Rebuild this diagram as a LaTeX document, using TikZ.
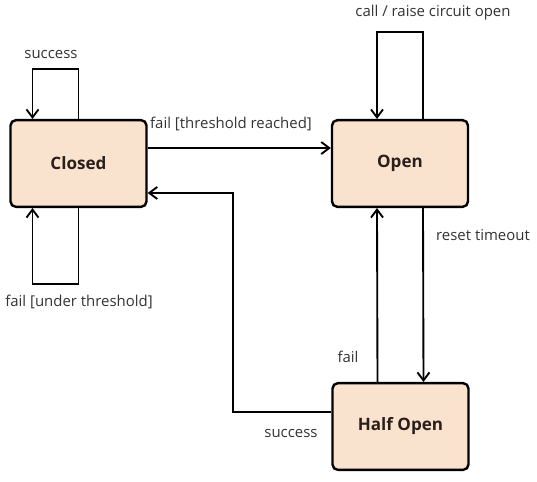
\documentclass[tikz,border=0pt]{standalone}
\usepackage{fontspec}
\setmainfont{Open Sans}
\usetikzlibrary{arrows.meta}

\definecolor{statefill}{HTML}{F9E2CE}
\definecolor{labelgray}{HTML}{333333}
\definecolor{statetext}{HTML}{2A1F1A}

\begin{document}
\begin{tikzpicture}[x=0.75pt, y=-0.75pt,
    state/.style={draw, line width=1.8pt, rounded corners=4pt, fill=statefill,
        minimum width=102pt, minimum height=65pt, font=\bfseries\fontsize{12.8}{15}\selectfont,
        text=statetext},
    lbl/.style={font=\fontsize{11.2}{13}\selectfont, text=labelgray, inner sep=0pt},
    trans/.style={line width=1.4pt, -{Straight Barb[length=6pt, width=9pt, line width=1.4pt]}}]
    \useasboundingbox (0,0) rectangle (537,482);

    \node[state] (closed) at (78.5, 163.5) {Closed};
    \node[state] (open) at (400, 163.5) {Open};
    \node[state] (half) at (400.5, 426.5) {Half Open};

    % Closed loops
    \draw[trans] (closed.north) -- ++(0,-50) -| ([xshift=-34.5pt]closed.north);
    \node[lbl] (succtop) at (51, 55) {success};

    \draw[trans] (closed.south) -- ++(0,76) -| ([xshift=-34.5pt]closed.south);
    \node[lbl] (failunder) at (79, 302) {fail [under threshold]};

    % Closed -> Open
    \draw[trans] ([yshift=11.6pt]closed.east) -- ([yshift=11.6pt]open.west);
    \node[lbl] (failreach) at (231, 124) {fail [threshold reached]};

    % Open loop
    \draw[trans] ([xshift=17.25pt]open.north) -- ++(0,-87) -| ([xshift=-17.25pt]open.north);
    \node[lbl] (callopen) at (433, 13) {call / raise circuit open};

    % Open <-> Half Open
    \draw[trans] ([xshift=17.25pt]open.south) -- ([xshift=17.25pt]half.north);
    \node[lbl] (reset) at (483, 235) {reset timeout};

    \draw[trans] ([xshift=-17.25pt]half.north) -- ([xshift=-17.25pt]open.south);
    \node[lbl] (failhalf) at (348, 357) {fail};

    % Half Open -> Closed
    \draw[trans] ([yshift=10.9pt]half.west) -| ([xshift=63.75pt, yshift=-22.1pt]closed.east)
        -- ([yshift=-22.1pt]closed.east);
    \node[lbl] (succhalf) at (291, 434) {success};
\end{tikzpicture}
\end{document}
